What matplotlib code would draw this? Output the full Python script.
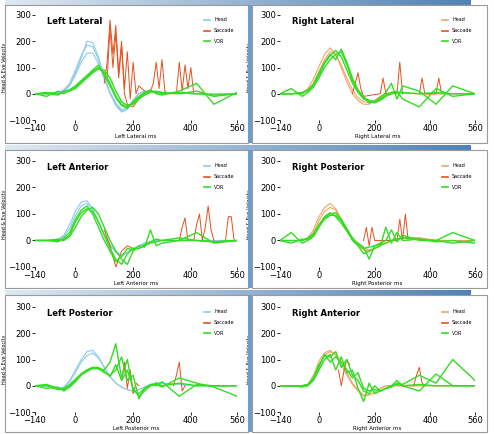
import numpy as np
import matplotlib
matplotlib.use("Agg")
import matplotlib.pyplot as plt
from matplotlib.lines import Line2D
from matplotlib.patches import Rectangle

T = [-140,-100,-60,-40,-20,0,20,40,60,80,100,120,140,160,180,200,220,240,260,280,300,360,420,480,560]

LL_head = [[0,0,5,15,40,90,145,185,180,130,60,0,-45,-70,-60,-25,0,10,10,8,5,2,0,0,0],
           [0,0,3,10,30,70,120,155,155,115,55,5,-35,-60,-55,-25,0,8,8,6,4,2,0,0,0],
           [0,0,4,12,35,80,135,200,195,140,65,5,-40,-65,-58,-25,0,10,10,8,5,2,0,0,0]]
LL_vor = [[0,0,-5,10,15,25,45,65,85,100,80,40,-10,-40,-50,-35,-15,0,10,5,0,5,0,-5,0],
          [0,5,0,5,10,20,40,60,80,95,90,60,10,-30,-45,-40,-20,-5,5,10,5,0,10,-10,0],
          [0,-10,10,0,15,30,50,70,90,110,70,30,-15,-45,-55,-30,-10,5,15,0,-5,10,40,-40,5]]
LL_sac = [([100,110,120,130,140,150,160,170,180,190,200,210,220,240],
           [40,120,280,150,260,80,200,20,160,-20,120,0,30,10]),
          ([110,120,130,140,150,160,170,180,200,220,240,260,270,280,290,300,310,320,350,360,370,380,390,400,410],
           [60,250,100,230,60,180,0,-40,-50,-20,0,10,40,120,20,130,10,0,0,120,10,110,20,100,0])]

RL_head = [[0,0,5,20,55,105,150,175,150,100,45,0,-25,-40,-40,-25,-10,0,5,5,2,0,0,0,0],
           [0,0,3,12,40,85,130,160,150,110,60,15,-15,-30,-35,-25,-10,0,5,5,2,0,0,0,0]]
RL_vor = [[0,0,5,10,30,70,115,145,165,140,90,40,5,-20,-30,-35,-25,-10,0,5,5,0,5,0,0],
          [0,20,-10,5,25,60,100,130,150,160,110,50,10,-15,-25,-30,-20,-5,5,10,-20,-50,20,-10,0],
          [0,0,0,15,35,80,120,150,130,170,120,60,15,-10,-35,-30,-15,5,40,-20,30,10,-40,30,0]]
RL_sac = [([120,130,140,150,160,220,230,240,280,290,300],[0,40,80,20,-10,0,60,0,0,120,0]),
          ([360,370,380,420,430,440],[0,60,0,0,60,0])]

LA_head = [[0,0,5,20,60,110,145,150,120,70,20,-20,-45,-60,-45,-30,-20,-10,-5,0,0,0,0,0,0],
           [0,0,3,15,45,95,130,140,115,70,25,-15,-40,-55,-45,-30,-20,-10,-5,0,0,0,0,0,0]]
LA_vor = [[0,0,0,5,20,70,105,120,110,70,20,-30,-70,-90,-50,-30,-30,-20,-10,-5,0,0,0,-5,0],
          [0,0,5,0,15,50,90,115,125,100,50,0,-40,-70,-90,-40,-20,-25,40,-20,-10,0,30,-10,0],
          [0,0,-5,10,30,80,115,130,100,50,0,-40,-80,-60,-30,-35,-30,-15,-5,5,0,10,0,-5,0]]
LA_sac = [([360,370,380,390,410,420,430,440,450,460,470,480],[0,50,85,0,0,60,100,0,50,130,40,0]),
          ([520,530,540,550,560],[0,90,90,0,0]),
          ([100,120,140,160,180,200],[40,-20,-100,-40,-20,-30])]

RP_head = [[0,0,0,10,40,90,125,140,120,80,40,5,-20,-35,-40,-30,-20,-10,0,5,10,10,0,0,0],
           [0,0,0,5,30,75,110,125,115,80,40,10,-15,-30,-35,-30,-20,-10,0,5,10,10,0,0,0]]
RP_vor = [[0,30,-10,0,15,50,85,100,105,80,45,10,-15,-30,-25,-20,-15,-10,0,5,10,5,0,-10,0],
          [0,-10,5,5,20,55,80,95,95,75,40,0,-20,-50,-40,-30,-20,50,-10,30,0,5,-5,0,-10],
          [0,0,0,10,25,60,90,105,90,65,35,5,-10,-25,-70,-20,-10,0,40,-5,20,0,0,30,0]]
RP_sac = [([160,170,180,190,200,210,220,280,290,300,310,320],[0,50,-20,50,0,0,0,0,80,0,100,0])]

LP_head = [[0,0,-10,-5,20,60,100,130,135,110,70,35,10,-5,-15,-20,-15,-5,5,10,10,5,0,0,0],
           [0,0,-10,-5,15,50,90,115,125,105,70,35,10,-5,-15,-20,-15,-5,5,10,10,5,0,0,0]]
LP_vor = [[0,5,-10,-15,0,20,45,60,70,70,55,35,80,20,60,-10,-40,-20,0,10,0,10,0,0,0],
          [0,-10,-5,-20,-5,15,40,55,65,65,60,90,160,30,100,-20,-30,-10,0,5,-5,30,10,-5,-40],
          [0,0,-15,-10,5,25,45,60,70,65,50,40,60,110,20,40,-50,-10,5,0,15,-40,5,0,0]]
LP_sac = [([160,170,180,190,200,210,220],[20,90,-10,60,-30,10,0]),
          ([340,350,360,370,380],[0,40,90,-20,0])]

RA_head = [[0,0,0,5,40,95,125,135,115,80,40,5,-20,-40,-35,-25,-10,0,0,0,0,0,0,0,0],
           [0,0,0,3,30,80,115,130,120,90,50,10,-15,-35,-35,-25,-10,0,0,0,0,0,0,0,0]]
RA_vor = [[0,0,0,5,30,80,115,110,130,70,100,40,20,-20,-30,0,-20,-10,0,5,0,5,0,0,0],
          [0,0,-5,0,20,60,100,120,60,110,50,60,-10,-60,10,-30,-20,-10,-5,10,5,40,10,100,20],
          [0,0,0,5,25,70,120,90,110,90,60,30,50,-10,-20,-15,-20,-10,0,20,0,-20,45,0,0]]
RA_sac = [([70,80,90,100,110],[60,0,60,100,80]),([340,350,360,370,380],[0,40,70,10,0])]

panels = [("Left Lateral", "Left Lateral ms", LL_head, LL_vor, LL_sac, "blue"),
          ("Right Lateral", "Right Lateral ms", RL_head, RL_vor, RL_sac, "orange"),
          ("Left Anterior", "Left Anterior ms", LA_head, LA_vor, LA_sac, "blue"),
          ("Right Posterior", "Right Posterior ms", RP_head, RP_vor, RP_sac, "orange"),
          ("Left Posterior", "Left Posterior ms", LP_head, LP_vor, LP_sac, "blue"),
          ("Right Anterior", "Right Anterior ms", RA_head, RA_vor, RA_sac, "orange")]

HEADC = {"blue": "#8ecbea", "orange": "#f0a46a"}
SACC = "#e8501e"
VORC = "#33dd22"

W, H = 494, 434
fig = plt.figure(figsize=(W/100, H/100), dpi=100)
fig.patch.set_facecolor("white")

def fx(px): return px / W
def fy(py): return 1 - py / H

# header strips
grad = np.linspace(0, 1, 256).reshape(1, -1)
from matplotlib.colors import LinearSegmentedColormap
cm = LinearSegmentedColormap.from_list("g", ["#dfe9f3", "#4f82b4"])
for y0 in [0, 145, 290]:
    hx = fig.add_axes([fx(5), fy(y0+5), fx(465), 5/H])
    hx.imshow(grad, aspect="auto", cmap=cm)
    hx.axis("off")
# panel frames
rows = [(5, 143), (150, 288), (295, 432)]
for (a, b) in rows:
    for (l, r) in [(5, 248), (252, 487)]:
        fig.add_artist(Rectangle((fx(l), fy(b)), fx(r-l), (b-a)/H, transform=fig.transFigure,
                                 fill=False, ec="#9a9a9a", lw=0.8))
    fig.add_artist(Rectangle((fx(248), fy(b)), fx(4), (b-a)/H, transform=fig.transFigure,
                             color="#6f9cc8", lw=0))

axrows = [(15, 120), (161, 267), (307, 412)]
cols = [(35, 237), (280, 475)]
for i, (title, xl, heads, vors, sacs, hc) in enumerate(panels):
    r, c = divmod(i, 2)
    t0, b0 = axrows[r]
    l0, r0 = cols[c]
    ax = fig.add_axes([fx(l0), fy(b0), fx(r0-l0), (b0-t0)/H])
    for h in heads:
        ax.plot(T, h, color=HEADC[hc], lw=0.8)
    for (st, sv) in sacs:
        ax.plot(st, sv, color=SACC, lw=0.7)
    for v in vors:
        ax.plot(T, v, color=VORC, lw=1.0)
    ax.set_xlim(-140, 560)
    ax.set_ylim(-100, 300)
    ax.set_xticks([-140, 0, 200, 400, 560])
    ax.set_yticks([-100, 0, 100, 200, 300])
    for s in ax.spines.values():
        s.set_visible(False)
    ax.tick_params(labelsize=6, length=2, width=0.6, pad=1)
    ax.set_xlabel(xl, fontsize=4, labelpad=0.5)
    ax.set_ylabel("Head & Eye Velocity", fontsize=3.5, labelpad=1)
    ax.text(0.06, 0.985, title, transform=ax.transAxes, fontsize=6, fontweight="bold", va="top")
    handles = [Line2D([], [], color=HEADC[hc], lw=1.2), Line2D([], [], color=SACC, lw=1.2),
               Line2D([], [], color=VORC, lw=1.2)]
    ax.legend(handles, ["Head", "Saccade", "VOR"], loc="upper right", fontsize=3.5,
              frameon=False, handlelength=1.2, labelspacing=1.2, borderaxespad=0.1)

fig.savefig("out.png", dpi=100)
